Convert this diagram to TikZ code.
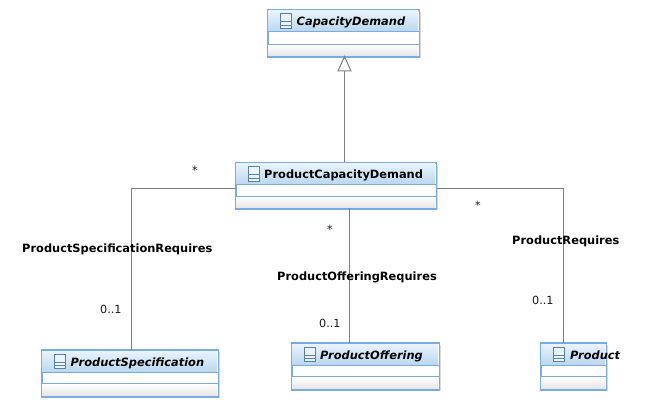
\documentclass[tikz,border=0pt]{standalone}
\usepackage{fontspec}
\setmainfont{DejaVu Sans}
\usetikzlibrary{calc}
\definecolor{umlblue}{HTML}{78ACE2}
\definecolor{titletop}{HTML}{EAF4FE}
\definecolor{titlebot}{HTML}{B9D6EE}
\definecolor{wire}{HTML}{808080}
\tikzset{
  umlframe/.style={draw=umlblue,line width=1.2pt,fill=white,inner sep=0pt,minimum height=0pt},
  classname/.style={font=\fontsize{11.4}{13}\selectfont\bfseries,inner sep=0pt,anchor=base west,text=black},
  wirestyle/.style={draw=wire,line width=1pt},
  rolelabel/.style={font=\fontsize{11.4}{13}\selectfont\bfseries,inner sep=0pt,anchor=base west,text=black},
  multlabel/.style={font=\fontsize{11.2}{13}\selectfont,inner sep=0pt,anchor=base west,text=black!90},
}
% #1 name, #2 left, #3 top, #4 right, #5 title bottom, #6 divider, #7 bottom, #8 text x, #9 text
\newcommand{\umlclass}[9]{%
  \fill[black!15] (#2+2.5,#3+2.5) rectangle (#4+2.5,#7+2.5);
  \node[umlframe,minimum width=#4pt-#2pt,minimum height=#7pt-#3pt,anchor=north west] (#1) at (#2,#3) {};
  \shade[top color=titletop,bottom color=titlebot] (#2+.5,#3+.5) rectangle (#4-.5,#5);
  \shade[top color=white,bottom color=black!10] (#2+.5,#6) rectangle (#4-.5,#7-.5);
  \draw[umlblue,line width=1pt] (#2,#5) -- (#4,#5) (#2,#6) -- (#4,#6);
  \draw[umlblue,line width=1.2pt] (#1.north west) rectangle (#1.south east);
  \draw[umlblue!75!black,line width=.9pt,fill=titletop] (#2+12.5,#3+4) rectangle (#2+23.5,#3+18.5);
  \draw[umlblue!75!black,line width=.8pt] (#2+12.5,#3+12) -- (#2+23.5,#3+12) (#2+12.5,#3+15.5) -- (#2+23.5,#3+15.5);
  \node[classname] (#1text) at (#8,#3+16.5) {#9};
}
\begin{document}
\begin{tikzpicture}[x=1pt,y=-1pt]
\useasboundingbox[fill=white] (0,0) rectangle (649,411);
\umlclass{cd}{267.5}{9.5}{418.5}{32}{44.5}{56}{296.5}{\itshape CapacityDemand}
\umlclass{pcd}{235.5}{162.5}{435.5}{185}{196.5}{208}{264}{ProductCapacityDemand}
\umlclass{ps}{41.5}{350}{217.5}{372.5}{384}{396}{70.5}{\itshape ProductSpecification}
\umlclass{po}{291.5}{343}{438.5}{365.5}{377}{389}{320}{\itshape ProductOffering}
\umlclass{pr}{540.5}{343}{605.5}{365.5}{377}{389}{570}{\itshape Product}
% generalisation
\coordinate (gtip) at (344.5,56.5);
\coordinate (gbase) at (344.5,71);
\draw[wirestyle] (gbase) -- (gbase |- pcd.north);
\draw[wirestyle,fill=white] (gtip) -- (351,71) -- (338,71) -- cycle;
% associations
\coordinate (ca) at (131.5,188.5);
\coordinate (cb) at (563.5,188.5);
\coordinate (cc) at (349.5,208);
\draw[wirestyle] (pcd.west |- ca) -- (ca) -- (ca |- ps.north);
\draw[wirestyle] (cc) -- (cc |- po.north);
\draw[wirestyle] (pcd.east |- cb) -- (cb) -- (cb |- pr.north);
% labels
\node[multlabel] (m1) at (192,175) {*};
\node[multlabel] (m2) at (475,210) {*};
\node[multlabel] (m3) at (327,234) {*};
\node[multlabel] (o1) at (100,314) {0..1};
\node[multlabel] (o2) at (319,328) {0..1};
\node[multlabel] (o3) at (532,305) {0..1};
\node[rolelabel] (r1) at (22,253) {ProductSpecificationRequires};
\node[rolelabel] (r2) at (277,281) {ProductOfferingRequires};
\node[rolelabel] (r3) at (512,245) {ProductRequires};
\end{tikzpicture}
\end{document}
